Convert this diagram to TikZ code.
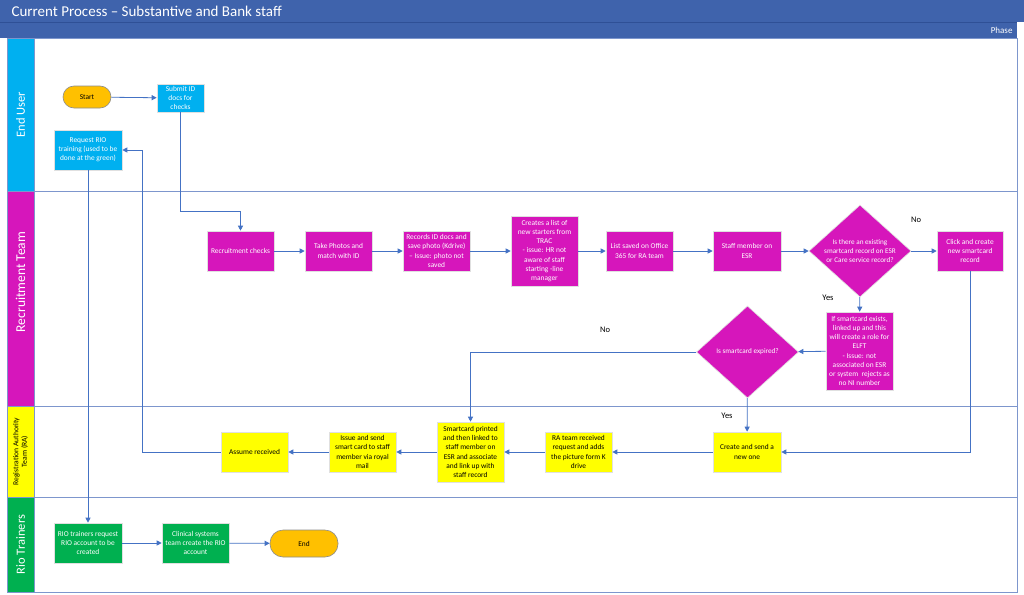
\documentclass[tikz,border=0pt]{standalone}
\usepackage{fontspec}
\setmainfont{Carlito}
\usetikzlibrary{shapes.geometric,arrows.meta}
\definecolor{hdr}{RGB}{63,99,172}
\definecolor{hdrline}{RGB}{47,80,150}
\definecolor{eu}{RGB}{0,176,240}
\definecolor{rt}{RGB}{214,22,187}
\definecolor{ra}{RGB}{255,255,0}
\definecolor{rio}{RGB}{0,176,80}
\definecolor{orng}{RGB}{255,192,0}
\definecolor{conn}{RGB}{68,114,196}
\definecolor{lanec}{RGB}{125,150,205}
\tikzset{
  box/.style={draw=black!12, line width=0.6pt, minimum width=67pt, minimum height=40pt,
    align=center, inner sep=1pt, font=\fontsize{7.4}{9.2}\selectfont},
  cyanbox/.style={box, fill=eu, text=white},
  magbox/.style={box, fill=rt, text=white},
  yelbox/.style={box, fill=ra, text=black},
  grnbox/.style={box, fill=rio, text=white},
  term/.style={draw=black!45, line width=0.6pt, fill=orng, rounded corners=11pt,
    align=center, font=\fontsize{7.4}{9}\selectfont},
  decide/.style={diamond, fill=rt, draw=black!12, line width=0.6pt, text=white, aspect=1.1,
    inner sep=0pt, minimum width=102pt, minimum height=92pt, align=center,
    font=\fontsize{7.2}{9.2}\selectfont},
  conn/.style={draw=conn, line width=0.8pt, -{Triangle[length=5pt,width=5pt]}},
  lbl/.style={font=\fontsize{8.5}{9}\selectfont, text=black},
  lanelbl/.style={rotate=90, font=\fontsize{12.5}{13}\selectfont, text=white}
}
\begin{document}
\begin{tikzpicture}[x=1pt,y=-1pt]
\useasboundingbox (0,0) rectangle (1024,594);
\fill[white] (0,0) rectangle (1024,594);
% header
\fill[hdr] (0,0) rectangle (1024,22);
\fill[hdr] (0,22) rectangle (1017,38);
\draw[hdrline, line width=0.5pt] (0,22) -- (1017,22);
\node[anchor=west, text=white, font=\fontsize{15}{17}\selectfont] (title) at (8,11) {Current Process – Substantive and Bank staff};
\node[anchor=east, text=white, font=\fontsize{9}{10}\selectfont] (phase) at (1016,30) {Phase};
% lanes
\fill[eu] (7,38) rectangle (34,191);
\fill[rt] (7,191) rectangle (34,406);
\fill[ra] (7,406) rectangle (34,497);
\fill[rio] (7,497) rectangle (34,592);
\draw[lanec, line width=0.8pt] (7,38) rectangle (1017,592);
\draw[lanec, line width=0.8pt] (34,38) -- (34,592);
\draw[lanec, line width=0.8pt] (7,191) -- (1017,191);
\draw[lanec, line width=0.8pt] (7,406) -- (1017,406);
\draw[lanec, line width=0.8pt] (7,497) -- (1017,497);
\node[lanelbl] (l1) at (20.5,114.5) {End User};
\node[lanelbl, font=\fontsize{13.5}{14}\selectfont] (l2) at (20.5,282) {Recruitment Team};
\node[lanelbl, text=black, align=center, font=\fontsize{7.6}{8.5}\selectfont] (l3) at (20.5,451.5) {Registration Authority\\Team (RA)};
\node[lanelbl] (l4) at (20.5,544.5) {Rio Trainers};
% nodes
\node[term, minimum width=48pt, minimum height=22pt] (start) at (87,97) {Start};
\node[cyanbox, minimum width=47pt, minimum height=28pt] (submit) at (180.5,98) {Submit ID\\docs for\\checks};
\node[cyanbox, minimum width=68pt] (reqrio) at (88,150) {Request RIO\\training (used to be\\done at the green)};
\node[magbox] (recchk) at (240.5,251) {Recruitment checks};
\node[magbox] (photos) at (338.5,251) {Take Photos and\\match with ID};
\node[magbox] (records) at (436.5,251) {Records ID docs and\\save photo (Kdrive)\\– Issue: photo not\\saved};
\node[magbox, minimum height=70pt] (creates) at (544.5,251) {Creates a list of\\new starters from\\TRAC\\- issue: HR not\\aware of staff\\starting -line\\manager};
\node[magbox] (listsaved) at (639.5,251) {List saved on Office\\365 for RA team};
\node[magbox, minimum width=68pt] (staff) at (747,251) {Staff member on\\ESR};
\node[decide] (d1) at (860,251) {Is there an existing\\smartcard record on ESR\\or Care service record?};
\node[magbox, minimum width=66pt] (click) at (970,251) {Click and create\\new smartcard\\record};
\node[magbox, minimum height=78pt] (ifsc) at (859.5,351) {If smartcard exists,\\linked up and this\\will create a role for\\ELFT\\- Issue: not\\associated on ESR\\or system\ \ rejects as\\no NI number};
\node[decide] (d2) at (747.5,352) {Is smartcard expired?};
\node[yelbox, minimum width=68pt] (create) at (747,452) {Create and send a\\new one};
\node[yelbox] (ratm) at (578.5,452) {RA team received\\request and adds\\the picture form K\\drive};
\node[yelbox, minimum height=60pt] (printed) at (470.5,452) {Smartcard printed\\and then linked to\\staff member on\\ESR and associate\\and link up with\\staff record};
\node[yelbox] (issue) at (362.5,452) {Issue and send\\smart card to staff\\member via royal\\mail};
\node[yelbox] (assume) at (254.5,452) {Assume received};
\node[grnbox, minimum width=68pt] (riotr) at (88,543) {RIO trainers request\\RIO account to be\\created};
\node[grnbox] (clin) at (195.5,543) {Clinical systems\\team create the RIO\\account};
\node[term, minimum width=68pt, minimum height=27pt, rounded corners=13pt] (endn) at (304,543.5) {End};
% connectors
\draw[conn] (start) -- (submit);
\draw[conn] (submit.south) |- (240.5,211) -| (recchk.north);
\draw[conn] (recchk) -- (photos);
\draw[conn] (photos) -- (records);
\draw[conn] (records) -- (creates);
\draw[conn] (creates) -- (listsaved);
\draw[conn] (listsaved) -- (staff);
\draw[conn] (staff) -- (d1);
\draw[conn] (d1) -- (click);
\draw[conn] (d1) -- (ifsc);
\draw[conn] (ifsc) -- (d2);
\draw[conn] (d2.west) -| (printed.north);
\draw[conn] (d2) -- (create);
\draw[conn] (click.south) |- (create.east);
\draw[conn] (create) -- (ratm);
\draw[conn] (ratm) -- (printed);
\draw[conn] (printed) -- (issue);
\draw[conn] (issue) -- (assume);
\draw[conn] (assume.west) -- (142,452) |- (reqrio.east);
\draw[conn] (reqrio) -- (riotr);
\draw[conn] (riotr) -- (clin);
\draw[conn] (clin) -- (endn);
% labels
\node[lbl] (no1) at (916,220) {No};
\node[lbl] (yes1) at (828,298) {Yes};
\node[lbl] (no2) at (605,330) {No};
\node[lbl] (yes2) at (727,416) {Yes};
\end{tikzpicture}
\end{document}
